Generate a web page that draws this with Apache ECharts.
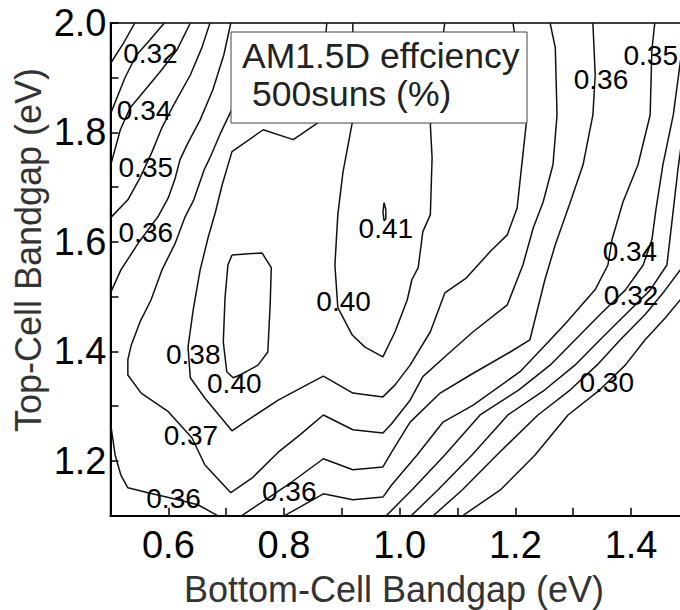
<!DOCTYPE html>
<html>
<head>
<meta charset="utf-8">
<script src="https://cdn.jsdelivr.net/npm/echarts/dist/echarts.min.js"></script>
<style>
html,body{margin:0;padding:0;background:#fff;}
#chart{width:680px;height:610px;}
</style>
</head>
<body>
<div id="chart"></div>
<script>
// Tick labels
const xTickLabels = ['0.6', '0.8', '1.0', '1.2', '1.4'];
const yTickLabels = ['1.2', '1.4', '1.6', '1.8', '2.0'];

// Contour lines [bottom-cell Eg, top-cell Eg]
const contourA = [[0.542,2.0],[0.523,1.964],[0.5,1.926]];
const contourB = [[0.593,2.0],[0.568,1.969],[0.544,1.940],[0.525,1.900],[0.511,1.863],[0.5,1.834]];
const contourC = [[0.638,2.0],[0.615,1.951],[0.589,1.915],[0.560,1.878],[0.534,1.845],[0.517,1.805],[0.5,1.739]];
const contourD = [[0.672,2.0],[0.658,1.955],[0.638,1.905],[0.610,1.852],[0.589,1.809],[0.572,1.765],[0.551,1.717],[0.530,1.677],[0.5,1.644]];
const contourE = [[0.708,2.0],[0.696,1.942],[0.677,1.878],[0.655,1.823],[0.634,1.781],[0.620,1.750],[0.612,1.717],[0.600,1.681],[0.582,1.646],[0.548,1.598],[0.518,1.549],[0.5,1.507]];
const contour037 = [[0.741,1.933],[0.708,1.838],[0.689,1.796],[0.672,1.754],[0.662,1.732],[0.644,1.677],[0.629,1.646],[0.612,1.598],[0.589,1.549],[0.570,1.494],[0.551,1.454],[0.536,1.412],[0.530,1.385],[0.530,1.357],[0.553,1.324],[0.600,1.290],[0.641,1.242],[0.663,1.193],[0.708,1.142],[0.745,1.169],[0.790,1.216],[0.828,1.248],[0.868,1.284],[0.919,1.257],[0.971,1.251],[0.986,1.268],[1.018,1.311],[1.040,1.354],[1.082,1.394],[1.127,1.436],[1.186,1.485],[1.213,1.558],[1.231,1.626],[1.248,1.673],[1.265,1.741],[1.272,1.832],[1.269,1.955],[1.260,2.0]];
const contour038 = [[0.874,2.0],[0.859,1.818],[0.816,1.787],[0.764,1.805],[0.710,1.765],[0.693,1.704],[0.681,1.653],[0.669,1.609],[0.655,1.549],[0.643,1.476],[0.634,1.408],[0.638,1.352],[0.663,1.315],[0.710,1.255],[0.745,1.280],[0.790,1.311],[0.836,1.337],[0.868,1.355],[0.919,1.324],[0.971,1.317],[0.992,1.339],[1.018,1.375],[1.053,1.436],[1.078,1.507],[1.115,1.534],[1.139,1.562],[1.156,1.582],[1.186,1.613],[1.203,1.662],[1.212,1.750],[1.219,1.818],[1.196,2.0]];
const contour040a = [[0.919,2.0],[0.918,1.818],[0.902,1.728],[0.893,1.650],[0.888,1.558],[0.893,1.480],[0.918,1.430],[0.940,1.408],[0.971,1.390],[0.992,1.436],[1.013,1.494],[1.021,1.531],[1.032,1.553],[1.040,1.619],[1.053,1.650],[1.056,1.754],[1.053,1.814],[1.078,2.0]];
const contour040b = [[0.710,1.576],[0.762,1.580],[0.778,1.553],[0.776,1.485],[0.772,1.399],[0.755,1.375],[0.724,1.357],[0.712,1.352],[0.701,1.363],[0.695,1.417],[0.698,1.498],[0.703,1.558],[0.710,1.576]];
const contour041 = [[0.973,1.672],[0.976,1.659],[0.976,1.642],[0.973,1.639],[0.971,1.655],[0.973,1.672]];
const contour036low = [[0.501,1.262],[0.508,1.211],[0.518,1.174],[0.530,1.151],[0.565,1.142],[0.606,1.132],[0.651,1.120],[0.689,1.098]];
const contour036mid = [[0.724,1.098],[0.762,1.125],[0.814,1.162],[0.868,1.204],[0.919,1.184],[0.971,1.189],[0.986,1.216],[1.018,1.271],[1.070,1.324],[1.122,1.357],[1.191,1.399],[1.225,1.421],[1.251,1.531],[1.269,1.595],[1.295,1.673],[1.317,1.741],[1.334,1.832],[1.338,1.905],[1.334,2.0]];
const contour035 = [[0.797,1.098],[0.828,1.116],[0.868,1.140],[0.919,1.129],[0.971,1.134],[0.986,1.156],[1.030,1.211],[1.075,1.271],[1.127,1.302],[1.208,1.363],[1.260,1.421],[1.289,1.454],[1.338,1.513],[1.360,1.558],[1.367,1.604],[1.386,1.673],[1.412,1.741],[1.433,1.832],[1.436,1.951],[1.441,2.0]];
const contour034 = [[0.975,1.098],[1.021,1.147],[1.078,1.211],[1.139,1.284],[1.206,1.330],[1.260,1.375],[1.303,1.421],[1.346,1.467],[1.390,1.512],[1.421,1.558],[1.436,1.604],[1.443,1.659],[1.455,1.741],[1.473,1.832],[1.488,1.951]];
const contour032 = [[1.018,1.098],[1.066,1.147],[1.125,1.211],[1.187,1.284],[1.251,1.330],[1.303,1.375],[1.346,1.421],[1.390,1.467],[1.433,1.512],[1.462,1.558],[1.471,1.640],[1.481,1.732],[1.488,1.787]];
const contour030 = [[1.056,1.098],[1.108,1.147],[1.168,1.211],[1.239,1.284],[1.295,1.330],[1.341,1.375],[1.381,1.421],[1.424,1.467],[1.459,1.512],[1.488,1.553]];
const contour029 = [[1.106,1.098],[1.174,1.147],[1.234,1.211],[1.291,1.284],[1.346,1.330],[1.390,1.375],[1.424,1.421],[1.459,1.461],[1.488,1.498]];

// Contour value labels
const labelTexts = ['0.32','0.34','0.35','0.36','0.41','0.40','0.38','0.40','0.37','0.36','0.36','0.36','0.35','0.34','0.32','0.30'];
const labelPoints = [[0.569,1.944],[0.558,1.841],[0.561,1.736],[0.561,1.617],[0.976,1.625],[0.903,1.492],[0.643,1.394],[0.714,1.341],[0.639,1.246],[0.609,1.131],[0.809,1.145],[1.348,1.896],[1.434,1.940],[1.398,1.583],[1.400,1.503],[1.358,1.344]];

const FONT = '"Liberation Sans", Arial, Helvetica, sans-serif';
const contours = [contourA, contourB, contourC, contourD, contourE, contour037, contour038, contour040a, contour040b, contour041, contour036low, contour036mid, contour035, contour034, contour032, contour030, contour029];

const chart = echarts.init(document.getElementById('chart'), null, {renderer: 'svg'});

const series = contours.map(d => ({
  type: 'line',
  data: d,
  showSymbol: false,
  symbol: 'none',
  smooth: false,
  silent: true,
  clip: true,
  lineStyle: {color: '#111', width: 1.5},
  z: 2
}));
series.push({
  type: 'scatter',
  data: labelPoints.map((p, i) => [p[0], p[1], labelTexts[i]]),
  symbolSize: 1,
  itemStyle: {color: 'transparent'},
  silent: true,
  clip: false,
  label: {
    show: true,
    position: 'inside',
    formatter: p => p.data[2],
    fontSize: 28,
    color: '#000',
    textBorderWidth: 0,
    textBorderColor: 'transparent',
    opacity: 1,
    fontFamily: FONT
  },
  z: 3
});

chart.setOption({
  animation: false,
  backgroundColor: '#fff',
  grid: {left: 110.5, width: 578.4, top: 23, bottom: 94.3, outerBoundsMode: 'none', containLabel: false, show: true, borderColor: '#000', borderWidth: 1.5, backgroundColor: 'transparent'},
  xAxis: {
    type: 'value', min: 0.5, max: 1.5, interval: 0.1,
    axisLine: {show: true, lineStyle: {color: '#000', width: 2}},
    axisTick: {show: true, inside: true, length: 8, lineStyle: {color: '#000', width: 1.5}},
    splitLine: {show: false},
    axisLabel: {
      margin: 10, fontSize: 38, color: '#000', fontFamily: FONT,
      formatter: v => { const s = v.toFixed(1); return xTickLabels.includes(s) ? s : ''; }
    }
  },
  yAxis: {
    type: 'value', min: 1.1, max: 2.0, interval: 0.1,
    axisLine: {show: true, lineStyle: {color: '#000', width: 2}},
    axisTick: {show: true, inside: true, length: 8, lineStyle: {color: '#000', width: 1.5}},
    splitLine: {show: false},
    axisLabel: {
      margin: 4, fontSize: 38, color: '#000', fontFamily: FONT,
      formatter: v => { const s = v.toFixed(1); return yTickLabels.includes(s) ? s : ''; }
    }
  },
  series: series,
  graphic: [
    {type: 'rect', z: 100, shape: {x: 231, y: 32, width: 296, height: 91}, style: {fill: '#fff', stroke: '#444', lineWidth: 1}},
    {type: 'text', z: 101, x: 242, y: 56, style: {text: 'AM1.5D effciency', font: '35.5px ' + FONT, fill: '#222', align: 'left', verticalAlign: 'middle'}},
    {type: 'text', z: 101, x: 252, y: 94, style: {text: '500suns (%)', font: '35.5px ' + FONT, fill: '#222', align: 'left', verticalAlign: 'middle'}},
    {type: 'text', z: 101, x: 394, y: 589, style: {text: 'Bottom-Cell Bandgap (eV)', font: '36px ' + FONT, fill: '#333', align: 'center', verticalAlign: 'middle'}},
    {type: 'text', z: 101, x: 28, y: 250, rotation: Math.PI / 2, style: {text: 'Top-Cell Bandgap (eV)', font: '36px ' + FONT, fill: '#333', align: 'center', verticalAlign: 'middle'}}
  ]
});
</script>
</body>
</html>
